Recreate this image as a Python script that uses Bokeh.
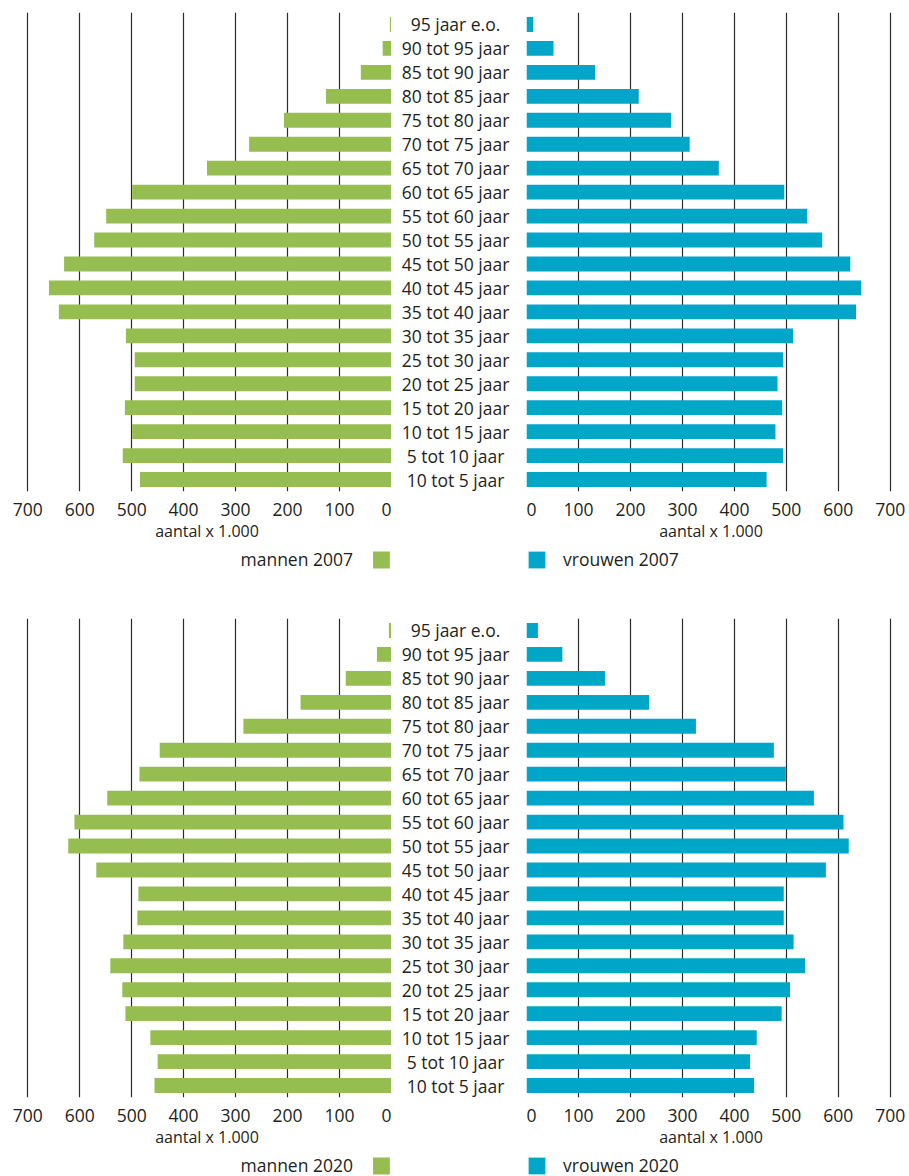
from bokeh.plotting import figure
from bokeh.models import Range1d, FactorRange, FixedTicker, Legend, LegendItem, ColumnDataSource, Spacer
from bokeh.layouts import row, column
from bokeh.core.properties import value
from bokeh.embed import file_html
from bokeh.resources import INLINE

# ---------------- data (x 1.000) ----------------
age_groups = [
    "95 jaar e.o.", "90 tot 95 jaar", "85 tot 90 jaar", "80 tot 85 jaar",
    "75 tot 80 jaar", "70 tot 75 jaar", "65 tot 70 jaar", "60 tot 65 jaar",
    "55 tot 60 jaar", "50 tot 55 jaar", "45 tot 50 jaar", "40 tot 45 jaar",
    "35 tot 40 jaar", "30 tot 35 jaar", "25 tot 30 jaar", "20 tot 25 jaar",
    "15 tot 20 jaar", "10 tot 15 jaar", "5 tot 10 jaar", "10 tot 5 jaar",
]
men_2007 = [3, 17, 59, 126, 207, 274, 355, 499, 549, 572,
            630, 659, 640, 511, 494, 494, 513, 499, 517, 484]
women_2007 = [13, 52, 132, 216, 278, 314, 370, 496, 540, 569,
              623, 644, 634, 513, 494, 483, 492, 479, 494, 462]
men_2020 = [5, 28, 88, 175, 285, 446, 485, 547, 610, 622,
            568, 487, 489, 516, 541, 518, 512, 464, 450, 456]
women_2020 = [22, 69, 151, 236, 326, 476, 499, 553, 610, 620,
              576, 495, 495, 514, 536, 507, 491, 443, 430, 438]
tick_values = [0, 100, 200, 300, 400, 500, 600, 700]
axis_title = "aantal x 1.000"
x_max = 710

GREEN = "#96bd50"
BLUE = "#00a6c8"
TEXT = "#231f20"
GRID = "#2b2b2b"
FONT = "Open Sans"
FS = "17.5px"

factors = list(reversed(age_groups))


def style_side(p):
    p.outline_line_color = None
    p.background_fill_color = "white"
    p.border_fill_color = "white"
    p.xgrid.ticker = FixedTicker(ticks=tick_values)
    p.xgrid.grid_line_color = GRID
    p.xgrid.grid_line_width = 1.2
    p.ygrid.grid_line_color = None
    ax = p.xaxis[0]
    ax.ticker = FixedTicker(ticks=tick_values)
    ax.axis_line_color = None
    ax.major_tick_line_color = None
    ax.minor_tick_line_color = None
    ax.major_tick_out = 0
    ax.major_tick_in = 0
    ax.minor_tick_out = 0
    ax.major_label_text_font = FONT
    ax.major_label_text_font_size = FS
    ax.major_label_text_color = TEXT
    ax.major_label_standoff = 11
    ax.axis_label = axis_title
    ax.axis_label_text_font = FONT
    ax.axis_label_text_font_size = "16px"
    ax.axis_label_text_font_style = "normal"
    ax.axis_label_text_color = TEXT
    ax.axis_label_standoff = 1


def style_legend(lg):
    lg.orientation = "horizontal"
    lg.border_line_color = None
    lg.background_fill_alpha = 0
    lg.padding = 0
    lg.margin = 0
    lg.glyph_width = 21
    lg.glyph_height = 21
    lg.label_height = 21
    lg.label_width = 0
    lg.label_text_font = FONT
    lg.label_text_font_size = FS
    lg.label_text_color = TEXT


def legend_strip(x_range, y_range, left_border, right_border, strip_height):
    p = figure(x_range=x_range, y_range=y_range, frame_width=369,
               frame_height=strip_height, min_border_left=left_border,
               min_border_right=right_border, min_border_top=2, min_border_bottom=0,
               x_axis_location=None, y_axis_location=None,
               toolbar_location=None, output_backend="svg")
    p.outline_line_color = None
    p.grid.visible = False
    p.background_fill_color = "white"
    p.border_fill_color = "white"
    return p


def make_rows(men, women, year, strip_height):
    yr = FactorRange(factors=factors, range_padding=0, factor_padding=0)
    xr_m = Range1d(x_max, 0)
    xr_w = Range1d(0, x_max)
    src = ColumnDataSource(dict(age=age_groups, men=men, women=women))

    common = dict(y_range=yr, frame_height=479, min_border_top=12,
                  min_border_bottom=54, toolbar_location=None,
                  output_backend="svg", y_axis_location=None)

    # men (left, reversed axis)
    pl = figure(x_range=xr_m, frame_width=369,
                min_border_left=22, min_border_right=0, **common)
    style_side(pl)
    pl.hbar(y="age", left=0, right="men", height=0.62, source=src,
            fill_color=GREEN, line_color=None)

    # labels in the middle
    pm = figure(x_range=Range1d(-1, 1), frame_width=135, min_border_left=0,
                min_border_right=0, x_axis_location=None, **common)
    pm.outline_line_color = None
    pm.grid.visible = False
    pm.text(x=0, y="age", text="age", source=src, text_font=value(FONT),
            text_font_size=FS, text_color=TEXT, text_align="center",
            text_baseline="middle", x_offset=-3.5)

    # women (right)
    pr = figure(x_range=xr_w, frame_width=369,
                min_border_left=0, min_border_right=13, **common)
    style_side(pr)
    pr.hbar(y="age", left=0, right="women", height=0.62, source=src,
            fill_color=BLUE, line_color=None)

    # legend strips (legend swatches come from hidden copies of the bar glyphs)
    lm = legend_strip(xr_m, yr, 22, 0, strip_height)
    blank = lm.hbar(y="age", left=0, right="men", height=0.62, source=src,
                    fill_alpha=0, line_alpha=0, visible=False)
    sw_m = lm.hbar(y="age", left=0, right="men", height=0.62, source=src,
                   fill_color=GREEN, line_color=None, visible=False)
    lg_m = Legend(items=[LegendItem(label="mannen " + year, renderers=[blank]),
                         LegendItem(label="", renderers=[sw_m])])
    style_legend(lg_m)
    lg_m.location = "top_right"
    lg_m.label_standoff = 0
    lg_m.spacing = 17
    lm.add_layout(lg_m, "center")

    lw = legend_strip(xr_w, yr, 0, 13, strip_height)
    sw_w = lw.hbar(y="age", left=0, right="women", height=0.62, source=src,
                   fill_color=BLUE, line_color=None, visible=False)
    lg_w = Legend(items=[LegendItem(label="vrouwen " + year, renderers=[sw_w])])
    style_legend(lg_w)
    lg_w.location = "top_left"
    lg_w.label_standoff = 16
    lw.add_layout(lg_w, "center")

    return [row(pl, pm, pr, spacing=0),
            row(lm, Spacer(width=135, height=10), lw, spacing=0)]


layout = column(*make_rows(men_2007, women_2007, "2007", 59),
                *make_rows(men_2020, women_2020, "2020", 23), spacing=0)

open("out.html", "w").write(file_html(layout, INLINE))
